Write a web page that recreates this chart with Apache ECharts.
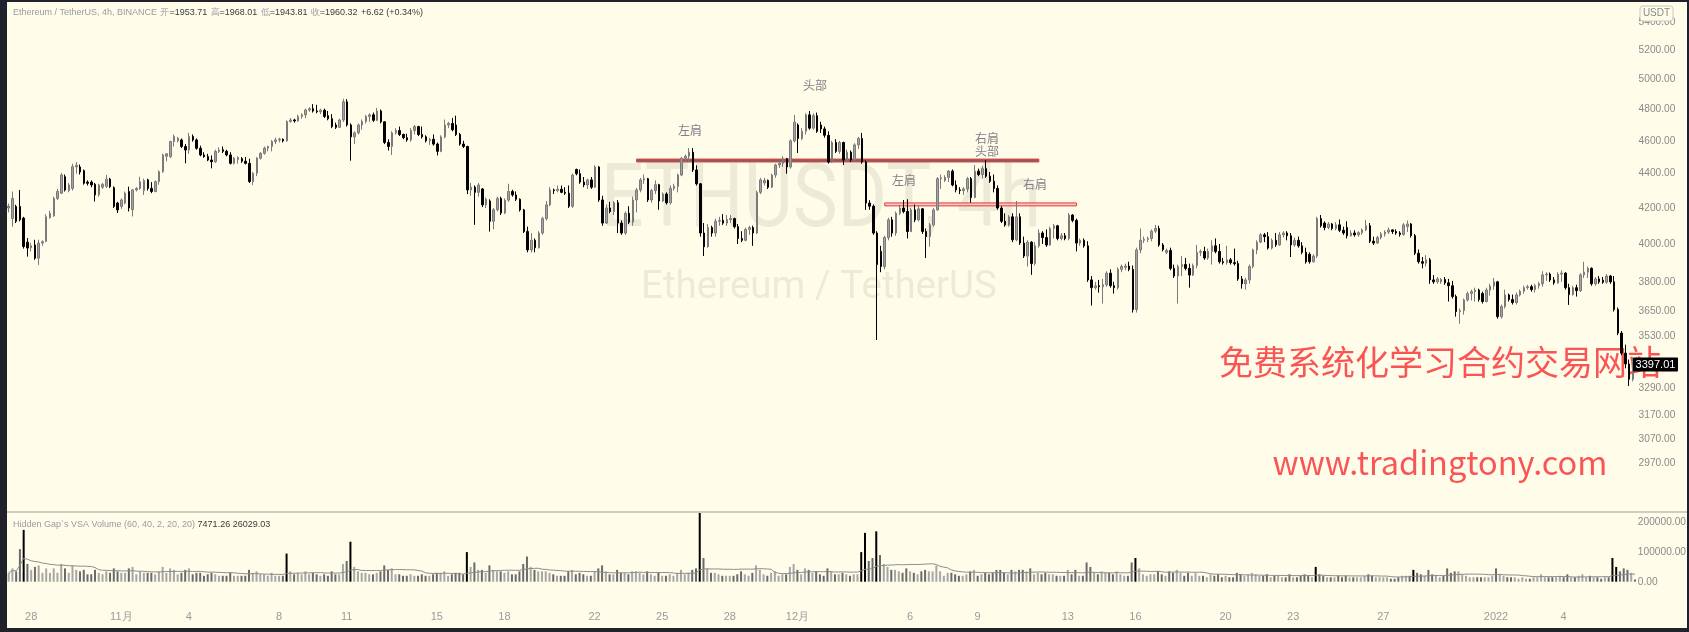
<!DOCTYPE html>
<html><head><meta charset="utf-8">
<script src="https://cdn.jsdelivr.net/npm/echarts@6/dist/echarts.min.js"></script>
<style>html,body{margin:0;padding:0;background:#fffdea;}#c{width:1689px;height:632px;}</style>
</head><body><div id="c"></div>
<script>
// first candle: 2021-10-27 00:00 (chart time), 4h candles
const startTime = Date.UTC(2021, 9, 27, 0, 0);
// [open, close, low, high]
const candles = [
[4200,4210,4175,4225],[4140,4255,4095,4295],[4208,4125,4115,4218],[4208,4133,4125,4304],[4143,3986,3975,4150],[4010,3978,3932,4032],
[3980,3990,3960,4005],[3995,3924,3915,4023],[3924,4005,3888,4023],[4005,4012,3990,4020],[4015,4150,4010,4165],[4145,4170,4140,4185],
[4155,4255,4150,4265],[4255,4295,4245,4310],[4285,4392,4280,4405],[4382,4304,4295,4395],[4300,4333,4290,4345],[4313,4442,4300,4460],
[4440,4450,4400,4470],[4440,4410,4395,4455],[4418,4343,4335,4425],[4350,4343,4330,4360],[4350,4333,4320,4360],[4337,4275,4237,4345],
[4276,4333,4265,4340],[4320,4337,4310,4345],[4325,4367,4315,4392],[4367,4323,4315,4375],[4317,4209,4200,4325],[4228,4189,4172,4235],
[4209,4246,4195,4255],[4228,4285,4220,4295],[4295,4200,4180,4323],[4190,4304,4152,4310],[4304,4313,4295,4320],[4313,4352,4305,4382],
[4300,4360,4275,4370],[4363,4313,4300,4370],[4313,4295,4285,4350],[4295,4353,4290,4360],[4353,4412,4335,4420],[4412,4513,4405,4520],
[4505,4520,4475,4525],[4503,4596,4495,4600],[4596,4627,4565,4640],[4600,4617,4590,4625],[4606,4565,4555,4615],[4565,4543,4462,4580],
[4543,4627,4520,4650],[4627,4606,4595,4640],[4606,4554,4545,4615],[4554,4513,4505,4570],[4513,4503,4495,4530],[4503,4482,4475,4520],
[4482,4472,4432,4510],[4472,4535,4465,4545],[4535,4543,4525,4560],[4545,4535,4525,4565],[4535,4513,4505,4545],[4513,4462,4455,4530],
[4462,4493,4455,4500],[4485,4497,4460,4505],[4490,4475,4465,4500],[4475,4462,4455,4500],[4462,4353,4345,4490],[4353,4402,4333,4410],
[4402,4493,4385,4500],[4493,4523,4485,4530],[4523,4555,4515,4565],[4555,4565,4535,4570],[4565,4596,4535,4605],[4596,4606,4580,4620],
[4606,4610,4590,4620],[4610,4600,4590,4615],[4600,4722,4595,4730],[4722,4732,4715,4745],[4732,4726,4715,4740],[4726,4755,4720,4765],
[4755,4765,4740,4775],[4765,4797,4745,4805],[4797,4805,4785,4815],[4805,4790,4780,4835],[4790,4785,4775,4830],[4785,4795,4770,4805],
[4795,4755,4745,4805],[4760,4740,4730,4790],[4740,4690,4680,4770],[4700,4685,4675,4715],[4685,4732,4680,4740],[4732,4850,4720,4870],
[4850,4700,4690,4868],[4700,4625,4478,4710],[4625,4650,4580,4660],[4650,4700,4640,4710],[4700,4722,4670,4735],[4722,4755,4710,4765],
[4755,4765,4720,4775],[4765,4730,4720,4780],[4730,4790,4725,4810],[4790,4720,4710,4800],[4720,4590,4580,4725],[4590,4565,4540,4610],
[4565,4650,4513,4660],[4650,4665,4640,4680],[4665,4640,4630,4690],[4640,4620,4610,4645],[4620,4606,4595,4645],[4606,4665,4595,4680],
[4665,4690,4640,4700],[4690,4640,4630,4695],[4640,4625,4615,4690],[4625,4600,4590,4635],[4600,4610,4575,4620],[4610,4580,4570,4640],
[4580,4535,4510,4590],[4535,4625,4530,4635],[4625,4700,4615,4735],[4700,4710,4680,4720],[4710,4670,4660,4745],[4700,4640,4630,4760],
[4640,4580,4570,4650],[4580,4565,4555,4600],[4565,4304,4280,4570],[4304,4320,4270,4345],[4320,4290,4105,4330],[4290,4333,4265,4345],
[4310,4218,4205,4315],[4218,4250,4200,4260],[4240,4125,4068,4250],[4125,4190,4080,4200],[4190,4255,4180,4265],[4255,4172,4160,4265],
[4172,4245,4165,4255],[4245,4295,4235,4340],[4295,4275,4265,4305],[4275,4250,4240,4295],[4250,4189,4180,4255],[4189,4068,4060,4195],
[4068,3968,3955,4095],[3968,4020,3955,4060],[4020,3980,3955,4030],[3980,4060,3975,4070],[4060,4140,4050,4150],[4140,4218,4130,4240],
[4218,4304,4210,4320],[4304,4300,4280,4312],[4300,4308,4290,4330],[4308,4290,4285,4330],[4290,4285,4275,4320],[4285,4210,4200,4330],
[4210,4392,4200,4400],[4425,4400,4390,4430],[4400,4350,4340,4425],[4350,4333,4320,4380],[4333,4363,4310,4370],[4363,4320,4310,4380],
[4320,4440,4315,4450],[4440,4246,4235,4445],[4246,4115,4100,4270],[4115,4200,4110,4220],[4200,4180,4170,4235],[4180,4230,4160,4240],
[4230,4115,4060,4245],[4115,4060,4050,4130],[4060,4170,4050,4180],[4170,4120,4110,4210],[4120,4246,4100,4265],[4246,4304,4175,4315],
[4304,4363,4290,4375],[4363,4370,4340,4395],[4370,4246,4235,4375],[4246,4300,4230,4310],[4300,4335,4280,4360],[4335,4240,4190,4340],
[4240,4280,4235,4290],[4280,4230,4220,4290],[4230,4313,4220,4330],[4313,4325,4300,4340],[4325,4392,4290,4400],[4392,4493,4385,4500],
[4493,4505,4470,4515],[4505,4530,4470,4555],[4530,4422,4410,4555],[4422,4340,4330,4450],[4340,4060,4040,4345],[4060,3985,3935,4115],
[3985,4090,3980,4110],[4090,4060,4040,4100],[4060,4125,4040,4140],[4125,4130,4100,4150],[4130,4115,4105,4165],[4115,4135,4100,4160],
[4135,4140,4115,4160],[4140,4095,4085,4145],[4095,4030,4000,4110],[4030,4020,4010,4070],[4020,4080,4015,4090],[4080,4090,4050,4100],
[4090,4060,3990,4100],[4060,4290,4055,4300],[4290,4363,4280,4375],[4345,4360,4330,4375],[4360,4320,4310,4365],[4320,4392,4315,4400],
[4392,4452,4375,4460],[4452,4462,4435,4475],[4462,4490,4440,4505],[4490,4440,4400,4495],
[4440,4600,4430,4610],[4600,4718,4590,4765],[4700,4615,4525,4710],[4615,4660,4605,4680],[4660,4765,4640,4775],[4765,4680,4670,4790],
[4680,4760,4670,4775],[4760,4660,4650,4780],[4700,4675,4650,4720],[4675,4635,4620,4690],[4635,4470,4460,4660],[4470,4590,4465,4600],
[4590,4535,4525,4610],[4535,4590,4520,4600],[4590,4482,4452,4595],[4482,4530,4470,4545],[4530,4482,4470,4540],[4482,4575,4475,4585],
[4575,4615,4550,4625],[4615,4470,4460,4650],[4470,4228,4189,4480],
[4228,4210,4190,4245],[4210,4060,4050,4220],[4060,3890,3512,4070],[3960,3880,3850,3990],[3880,4035,3865,4045],[4035,4133,4020,4145],
[4133,4060,4040,4150],[4060,4170,4045,4180],[4170,4200,4160,4218],[4200,4180,4170,4246],[4180,4068,4030,4250],[4068,4189,4065,4200],
[4189,4133,4120,4220],[4133,4195,4125,4215],[4195,4068,4055,4200],[4068,4040,3925,4085],[4040,4105,3985,4115],[4105,4189,4095,4200],
[4189,4370,4185,4380],[4370,4375,4310,4395],[4360,4378,4350,4390],[4378,4415,4350,4422],[4415,4333,4325,4425],[4333,4304,4290,4360],
[4304,4300,4280,4320],[4300,4310,4275,4320],[4310,4370,4290,4380],[4370,4260,4230,4380],[4260,4415,4255,4452],[4415,4395,4385,4430],
[4395,4430,4370,4445],[4430,4385,4375,4482],[4385,4355,4345,4410],[4355,4313,4290,4395],[4313,4200,4190,4330],[4200,4125,4115,4210],
[4125,4105,4095,4170],[4105,4150,4095,4160],[4150,4023,4010,4170],[4023,4150,4015,4240],[4150,4005,3995,4170],[4005,3935,3925,4040],
[3935,4010,3880,4020],[4010,3895,3836,4015],[3895,3990,3885,4010],[3990,4060,3980,4080],[4060,4035,4000,4070],[4035,3995,3985,4080],
[3995,4085,3990,4095],[4085,4100,4030,4110],[4100,4030,4020,4105],[4030,4045,4020,4060],[4045,4030,4020,4060],[4030,4160,4020,4172],
[4160,4130,4120,4165],[4130,4005,3960,4140],[4005,4020,3990,4030],[4020,3990,3980,4030],[3990,3810,3800,4015],
[3810,3770,3680,3830],[3770,3780,3760,3800],[3780,3775,3745,3810],[3775,3785,3690,3815],[3785,3845,3775,3855],[3845,3780,3770,3865],
[3780,3770,3740,3800],[3770,3865,3760,3875],[3865,3880,3850,3890],[3875,3882,3860,3895],[3882,3865,3855,3905],[3865,3660,3645,3885],
[3660,3968,3645,3980],[3968,4020,3950,4085],[4020,4025,4005,4040],[4025,4030,4010,4040],[4030,4070,4015,4080],[4070,4085,4060,4105],
[4085,3995,3985,4100],[3995,3970,3960,4005],[3955,3965,3945,3975],[3965,3870,3860,3980],[3870,3830,3820,3890],[3830,3880,3690,3890],
[3880,3890,3830,3935],[3890,3870,3860,3925],[3870,3835,3770,3895],[3835,3885,3830,3895],[3885,3955,3870,3995],[3955,3960,3935,3970],
[3960,3925,3915,3985],[3925,3960,3915,3975],[3960,3990,3890,4020],[3990,3960,3950,4030],[3960,3905,3895,4000],[3905,3900,3890,3925],
[3900,3915,3890,3990],[3915,3900,3890,3925],[3900,3895,3885,3975],[3895,3815,3805,3910],[3815,3790,3765,3830],[3790,3810,3760,3820],
[3810,3880,3790,3890],[3880,3968,3870,3975],[3968,4010,3945,4020],[4010,4050,4005,4060],[4050,4040,4010,4060],[4040,3978,3970,4065],
[3978,4020,3970,4030],[4020,3995,3985,4060],[3995,4050,3990,4065],[4050,4060,4035,4070],[4060,4045,4020,4070],[4045,3995,3930,4060],
[3995,4020,3985,4035],[4020,3990,3980,4040],[3990,3955,3945,4010],[3955,3905,3895,3980],[3945,3905,3895,3955],[3905,3935,3900,3945],
[3935,4140,3925,4150],[4140,4100,4090,4160],[4115,4090,4075,4125],[4090,4110,4080,4120],[4110,4085,4075,4115],[4085,4105,4075,4120],
[4105,4075,4065,4135],[4075,4060,4050,4095],[4090,4045,4030,4125],[4045,4060,4040,4075],[4060,4050,4040,4075],[4050,4062,4040,4070],
[4062,4077,4050,4085],[4077,4100,4070,4133],[4100,4015,4005,4115],[4015,4005,3995,4040],[4005,4035,4000,4045],[4035,4055,4025,4065],
[4055,4065,4040,4075],[4065,4077,4055,4090],[4077,4068,4055,4080],[4068,4060,4050,4080],[4060,4052,4040,4070],[4052,4105,4045,4115],
[4095,4110,4065,4130],[4110,4045,4035,4115],[4045,3950,3940,4055],[3950,3905,3895,3970],[3905,3897,3870,3930],[3897,3915,3880,3940],
[3915,3810,3790,3925],[3810,3800,3790,3835],[3800,3815,3790,3825],[3800,3812,3790,3820],[3812,3795,3785,3825],[3795,3780,3700,3815],
[3780,3725,3715,3805],[3725,3650,3625,3735],[3650,3655,3590,3665],[3655,3708,3635,3715],[3708,3740,3700,3750],[3740,3750,3705,3760],
[3750,3758,3700,3770],[3758,3710,3700,3765],[3740,3700,3690,3750],[3700,3758,3695,3770],[3758,3778,3730,3790],[3778,3800,3760,3820],
[3800,3625,3615,3805],[3625,3675,3615,3685],[3675,3733,3665,3760],[3733,3710,3700,3740],[3710,3695,3685,3735],[3695,3733,3685,3745],
[3733,3752,3725,3760],[3752,3770,3740,3780],[3770,3775,3760,3785],[3775,3760,3750,3785],[3760,3780,3745,3790],[3780,3790,3765,3800],
[3790,3836,3775,3855],[3836,3840,3805,3850],[3840,3810,3800,3848],[3810,3795,3785,3825],[3795,3840,3790,3850],[3840,3845,3800,3860],
[3845,3770,3760,3850],[3770,3735,3683,3790],[3735,3770,3730,3780],[3770,3755,3725,3785],[3755,3836,3748,3845],[3836,3850,3820,3905],
[3850,3870,3820,3880],[3870,3790,3780,3875],[3790,3815,3780,3825],[3815,3800,3790,3830],[3808,3798,3790,3825],[3798,3830,3790,3840],
[3830,3800,3790,3835],[3800,3660,3650,3830],[3660,3545,3535,3670],[3545,3450,3440,3555],[3450,3400,3380,3490],[3400,3330,3300,3420],
[3330,3418,3320,3430],[3418,3397.01,3380,3430]
];
const volumes = [
30000,45000,35000,110000,175000,60000,40000,50000,55000,30000,45000,30000,45000,30000,60000,45000,30000,55000,40000,35000,40000,25000,25000,40000,
30000,25000,35000,30000,45000,35000,30000,30000,45000,50000,25000,35000,30000,30000,30000,25000,35000,50000,30000,45000,40000,25000,30000,40000,
45000,25000,30000,30000,20000,25000,30000,25000,20000,20000,20000,30000,20000,20000,20000,20000,40000,30000,35000,25000,25000,20000,30000,20000,
20000,20000,95000,35000,25000,30000,25000,35000,25000,30000,25000,20000,25000,20000,35000,25000,25000,60000,70000,135000,50000,35000,30000,30000,
25000,25000,30000,35000,55000,40000,45000,25000,25000,20000,20000,25000,20000,20000,25000,20000,20000,25000,30000,30000,35000,20000,25000,30000,
30000,25000,100000,50000,65000,40000,40000,30000,55000,40000,35000,35000,30000,35000,25000,25000,35000,60000,85000,50000,40000,35000,35000,35000,
30000,25000,20000,20000,20000,35000,40000,25000,30000,25000,20000,20000,35000,45000,55000,35000,25000,25000,40000,30000,30000,25000,35000,35000,
30000,25000,35000,25000,20000,30000,20000,20000,25000,20000,30000,40000,25000,30000,40000,45000,245000,80000,45000,30000,30000,25000,20000,20000,
20000,20000,25000,35000,25000,20000,30000,55000,40000,25000,20000,30000,35000,20000,25000,25000,
50000,60000,40000,25000,45000,40000,30000,35000,25000,20000,45000,35000,25000,25000,30000,25000,20000,25000,25000,100000,165000,
70000,80000,170000,90000,60000,50000,40000,40000,35000,30000,45000,35000,30000,25000,35000,40000,35000,35000,55000,35000,20000,30000,30000,
25000,20000,20000,25000,35000,40000,20000,25000,30000,25000,30000,40000,40000,30000,25000,40000,35000,40000,40000,35000,45000,25000,30000,25000,
30000,25000,25000,20000,20000,20000,40000,25000,40000,20000,20000,65000,
50000,30000,25000,35000,30000,30000,25000,35000,25000,20000,20000,65000,80000,45000,25000,20000,25000,25000,35000,25000,20000,35000,30000,40000,
30000,20000,30000,20000,30000,20000,20000,15000,25000,20000,25000,15000,20000,15000,15000,30000,25000,20000,25000,30000,25000,20000,20000,25000,
15000,20000,20000,15000,15000,25000,15000,15000,20000,25000,20000,15000,50000,25000,20000,15000,15000,15000,20000,15000,20000,15000,15000,15000,
15000,20000,25000,20000,15000,15000,15000,15000,10000,10000,15000,20000,20000,20000,40000,30000,25000,20000,40000,25000,20000,15000,20000,45000,
30000,35000,35000,25000,20000,15000,15000,15000,15000,15000,15000,20000,45000,25000,20000,15000,15000,15000,10000,15000,10000,10000,15000,15000,
25000,15000,15000,15000,15000,20000,15000,25000,15000,15000,20000,25000,15000,20000,15000,15000,10000,15000,15000,80000,50000,35000,45000,40000,
30000,7471
];
const priceTicks = [5400,5200,5000,4800,4600,4400,4200,4000,3800,3650,3530,3290,3170,3070,2970];
const volumeTicks = [0,100000,200000];
const dateTicks = [
['2021-10-28 00:00','28'],['2021-11-01 00:00','11月'],['2021-11-04 00:00','4'],['2021-11-08 00:00','8'],
['2021-11-11 00:00','11'],['2021-11-15 00:00','15'],['2021-11-18 00:00','18'],['2021-11-22 00:00','22'],
['2021-11-25 00:00','25'],['2021-11-28 00:00','28'],['2021-12-01 00:00','12月'],['2021-12-06 00:00','6'],
['2021-12-09 00:00','9'],['2021-12-13 00:00','13'],['2021-12-16 00:00','16'],['2021-12-20 00:00','20'],
['2021-12-23 00:00','23'],['2021-12-27 00:00','27'],['2022-01-01 00:00','2022'],['2022-01-04 00:00','4']
];

const pad = n => (n < 10 ? '0' : '') + n;
const cats = candles.map((c, i) => {
  const d = new Date(startTime + i * 4 * 3600 * 1000);
  return d.getUTCFullYear() + '-' + pad(d.getUTCMonth() + 1) + '-' + pad(d.getUTCDate()) + ' ' + pad(d.getUTCHours()) + ':00';
});
const tickMap = new Map(dateTicks);
const ln = Math.log;
const kData = candles.map(c => [ln(c[0]), ln(c[1]), ln(c[2]), ln(c[3])]);
const maVol = volumes.map((v, i) => { const s = Math.max(0, i - 19); let sum = 0; for (let j = s; j <= i; j++) sum += volumes[j]; return sum / (i - s + 1); });
const volData = volumes.map((v, i) => ({
  value: v,
  itemStyle: { color: v > 2.2 * maVol[i] ? '#000000' : (candles[i][1] >= candles[i][0] ? '#a6a6a6' : '#6a6a6a') }
}));

const N = candles.length;
const band = 3.76;
const gLeft = 6.76, gWidth = N * band;
const FONT = 'Liberation Sans, Arial, sans-serif';

const chart = echarts.init(document.getElementById('c'), null, { renderer: 'canvas' });
const option = {
  animation: false,
  backgroundColor: '#fffdea',
  grid: [
    { left: gLeft, top: 3, width: gWidth, height: 508 },
    { left: gLeft, top: 513, width: gWidth, height: 68.7 }
  ],
  xAxis: [
    { type: 'category', gridIndex: 0, data: cats, boundaryGap: true, axisLine: { show: false }, axisTick: { show: false }, axisLabel: { show: false }, splitLine: { show: false } },
    { type: 'category', gridIndex: 1, data: cats, boundaryGap: true, axisLine: { show: false }, axisTick: { show: false }, splitLine: { show: false },
      axisLabel: { show: true, interval: (idx, val) => tickMap.has(val), formatter: val => tickMap.get(val) || '', color: '#9a9a9a', fontSize: 11, fontFamily: FONT, margin: 30, hideOverlap: false } }
  ],
  yAxis: [
    { type: 'value', gridIndex: 0, position: 'right', min: 7.932196, max: 8.620636, scale: true,
      axisLine: { show: false }, axisTick: { show: false }, splitLine: { show: false },
      axisLabel: { customValues: priceTicks.map(ln), formatter: v => Math.exp(v).toFixed(2), color: '#8a8a8a', fontSize: 10.2, fontFamily: FONT, margin: 0, align: 'left' } },
    { type: 'value', gridIndex: 1, position: 'right', min: 0, max: 232000,
      axisLine: { show: false }, axisTick: { show: false }, splitLine: { show: false },
      axisLabel: { customValues: volumeTicks, formatter: v => v.toFixed(2), color: '#8a8a8a', fontSize: 10.2, fontFamily: FONT, margin: 1, align: 'left' } }
  ],
  series: [
    { type: 'candlestick', xAxisIndex: 0, yAxisIndex: 0, data: kData, barWidth: 2,
      itemStyle: { color: '#a3a3a3', color0: '#000000', borderColor: '#7a7a7a', borderColor0: '#000000', borderWidth: 1 },
      markArea: { silent: true, data: [
        [ { xAxis: cats[167], yAxis: ln(4488), itemStyle: { color: '#8c5b5b', borderColor: '#e04848', borderWidth: 1 } }, { xAxis: cats[274], yAxis: ln(4470) } ],
        [ { xAxis: cats[233], yAxis: ln(4229), itemStyle: { color: '#f6c9c9', borderColor: '#e53935', borderWidth: 1 } }, { xAxis: cats[284], yAxis: ln(4212) } ]
      ] }
    },
    { type: 'bar', xAxisIndex: 1, yAxisIndex: 1, data: volData, barWidth: 2 },
    { type: 'line', xAxisIndex: 1, yAxisIndex: 1, data: maVol, showSymbol: false, symbol: 'none', lineStyle: { color: '#8c8c8c', width: 1 } }
  ]
};
chart.setOption(option);

const lastClose = candles[N - 1][1];
const lastY = chart.convertToPixel({ yAxisIndex: 0 }, ln(lastClose));
const grey = '#80808a';
const gText = (x, y, text, size, fill, extra) => Object.assign({ type: 'text', x: x, y: y, silent: true,
  style: Object.assign({ text: text, fill: fill, font: size + 'px ' + FONT, align: 'center', verticalAlign: 'middle' }, extra || {}) });

chart.setOption({
  graphic: [
    // watermark
    { type: 'text', x: 821, y: 204, z: -10, scaleX: 0.85, silent: true, style: { text: 'ETHUSDT, 4h', fill: 'rgba(90,90,70,0.11)', font: '89px Roboto, ' + FONT, align: 'center', verticalAlign: 'middle' } },
    { type: 'text', x: 819, y: 288, z: -10, silent: true, style: { text: 'Ethereum / TetherUS', fill: 'rgba(90,90,70,0.11)', font: '38.5px Roboto, ' + FONT, align: 'center', verticalAlign: 'middle' } },
    // annotations
    gText(815, 85, '头部', 12, grey, { font: '12px "Noto Sans CJK SC"' }),
    gText(690, 130, '左肩', 12, grey, { font: '12px "Noto Sans CJK SC"' }),
    gText(987, 138, '右肩', 12, grey, { font: '12px "Noto Sans CJK SC"' }),
    gText(987, 151, '头部', 12, grey, { font: '12px "Noto Sans CJK SC"' }),
    gText(904, 180, '左肩', 12, grey, { font: '12px "Noto Sans CJK SC"' }),
    gText(1035, 184, '右肩', 12, grey, { font: '12px "Noto Sans CJK SC"' }),
    // promo texts
    gText(1440, 362, '免费系统化学习合约交易网站', 34, '#fa5555', { font: '34px "Noto Sans CJK SC"' }),
    gText(1440, 463, 'www.tradingtony.com', 32.5, '#fa5555', { font: '32.5px "Noto Sans CJK SC"' }),
    // header
    { type: 'text', x: 13, y: 13, silent: true, style: { text: '{g|Ethereum / TetherUS, 4h, BINANCE} {g|开}{v|=1953.71} {g|高}{v|=1968.01} {g|低}{v|=1943.81} {g|收}{v|=1960.32} {v|+6.62 (+0.34%)}',
      verticalAlign: 'middle', rich: { g: { fill: '#9a9aa2', font: '9px ' + FONT }, v: { fill: '#3a3a3a', font: '9px ' + FONT } } } },
    { type: 'text', x: 13, y: 525, silent: true, style: { text: 'Hidden Gap`s VSA Volume (60, 40, 2, 20, 20) {v|7471.26 26029.03}', fill: '#9a9aa2', font: '9px ' + FONT, verticalAlign: 'middle', rich: { v: { fill: '#3a3a3a', font: '9px ' + FONT } } } },
    // pane separator
    { type: 'rect', shape: { x: 7, y: 511.5, width: 1682, height: 1 }, style: { fill: '#a0a0a0' }, silent: true },
    // last price label
    { type: 'rect', shape: { x: 1633, y: lastY - 7, width: 45, height: 14, r: 1 }, style: { fill: '#000000' }, silent: true, z: 50 },
    { type: 'text', x: 1655.5, y: lastY, z: 51, silent: true, style: { text: lastClose.toFixed(2), fill: '#ffffff', font: '11px ' + FONT, align: 'center', verticalAlign: 'middle' } },
    // USDT badge
    { type: 'rect', shape: { x: 1640, y: 6, width: 33, height: 15, r: 3 }, style: { fill: '#fffdea', stroke: '#c8c8c8', lineWidth: 1 }, silent: true, z: 50 },
    { type: 'text', x: 1656.5, y: 13.5, z: 51, silent: true, style: { text: 'USDT', fill: '#8a8a8a', font: '10px ' + FONT, align: 'center', verticalAlign: 'middle' } },
    // dark frame
    { type: 'rect', shape: { x: 0, y: 0, width: 7, height: 632 }, style: { fill: '#1f222b' }, silent: true, z: 100 },
    { type: 'rect', shape: { x: 0, y: 0, width: 1689, height: 2 }, style: { fill: '#1f222b' }, silent: true, z: 100 },
    { type: 'rect', shape: { x: 0, y: 628, width: 1689, height: 4 }, style: { fill: '#1f222b' }, silent: true, z: 100 },
    { type: 'rect', shape: { x: 1687, y: 0, width: 2, height: 632 }, style: { fill: '#1f222b' }, silent: true, z: 100 }
  ]
});
</script></body></html>
